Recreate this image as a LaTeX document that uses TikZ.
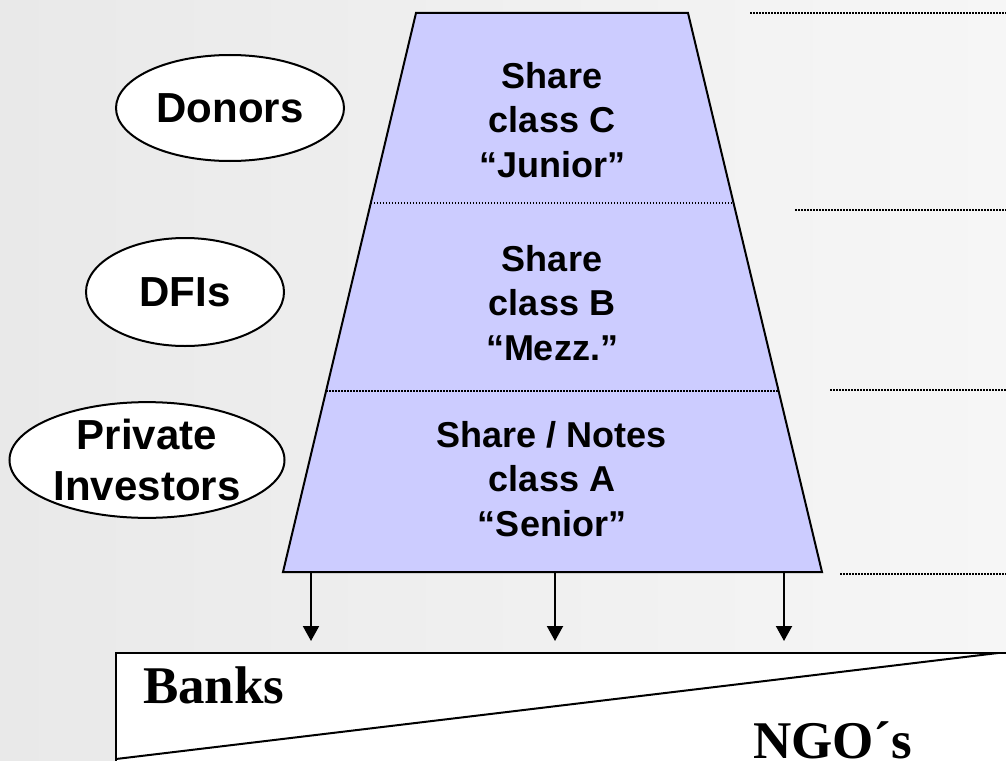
\documentclass[tikz,border=0pt]{standalone}
\usepackage{fontspec}
\setsansfont{Liberation Sans}
\newfontfamily\lenderfont{Liberation Serif}
\usetikzlibrary{arrows.meta,shapes.geometric,calc}
\definecolor{bgleft}{RGB}{233,233,233}
\definecolor{bgright}{RGB}{246,246,246}
\definecolor{tranchefill}{RGB}{204,204,255}
\begin{document}
\begin{tikzpicture}[x=1pt, y=-1pt, line width=2pt,
  investor/.style={draw, ellipse, fill=white, inner sep=0pt, align=center, font=\sffamily\bfseries\fontsize{42}{51}\selectfont},
  tranche/.style={align=center, inner sep=0pt, font=\sffamily\bfseries\fontsize{36}{44.5}\selectfont},
  lender/.style={anchor=base west, inner sep=0pt, font=\lenderfont\bfseries\fontsize{53}{60}\selectfont},
  level/.style={line width=1.8pt, dash pattern=on 1.5pt off 1.5pt},
  flow/.style={-{Triangle[length=15pt,width=16pt]}}]
  \useasboundingbox (0,0) rectangle (1006,760);
  \clip (0,0) rectangle (1006,760);
  \shade[left color=bgleft, right color=bgright] (0,0) rectangle (1006,760);

  % fund structure
  \coordinate (tl) at (416,13);
  \coordinate (tr) at (688,13);
  \coordinate (br) at (822,572);
  \coordinate (bl) at (283,572);
  \filldraw[fill=tranchefill] (tl) -- (tr) -- (br) -- (bl) -- cycle;
  \draw[level] ($(tl)!0.34!(bl)$) -- ($(tr)!0.34!(br)$);
  \draw[level] ($(tl)!0.676!(bl)$) -- ($(tr)!0.676!(br)$);

  \node[tranche] (C) at (552,120) {Share\\class C\\“Junior”};
  \node[tranche] (B) at (552,303) {Share\\class B\\“Mezz.”};
  \node[tranche] (A) at (552,479) {Share / Notes\\class A\\“Senior”};

  % levels on the right
  \draw[level] (750,13) -- (1006,13);
  \draw[level] (795,210) -- (1006,210);
  \draw[level] (830,390) -- (1006,390);
  \draw[level] (840,574) -- (1006,574);

  % investors
  \node[investor, minimum width=228pt, minimum height=106pt] (donors) at (230,108) {Donors};
  \node[investor, minimum width=198pt, minimum height=108pt] (dfis) at (185,292) {DFIs};
  \node[investor, minimum width=275pt, minimum height=114pt] (private) at (147,460) {Private\\Investors};

  % lenders
  \coordinate (ltop) at (116,653);
  \coordinate (rtop) at (1010,653);
  \coordinate (lbot) at (116,759);
  \coordinate (tip) at (998,653);
  \fill[white] (ltop) rectangle (1010,770);
  \draw (rtop) -- (ltop) -- (116,770);
  \draw (lbot) -- (tip);
  \node[lender] (banks) at (142,703) {Banks};
  \node[lender] (ngos) at (752,758) {NGO´s};

  \foreach \x [count=\i] in {311,555,784} {
    \coordinate (out\i) at (\x,572);
    \coordinate (in\i) at (\x,641);
    \draw[flow] (out\i) -- (in\i);
  }
\end{tikzpicture}
\end{document}
